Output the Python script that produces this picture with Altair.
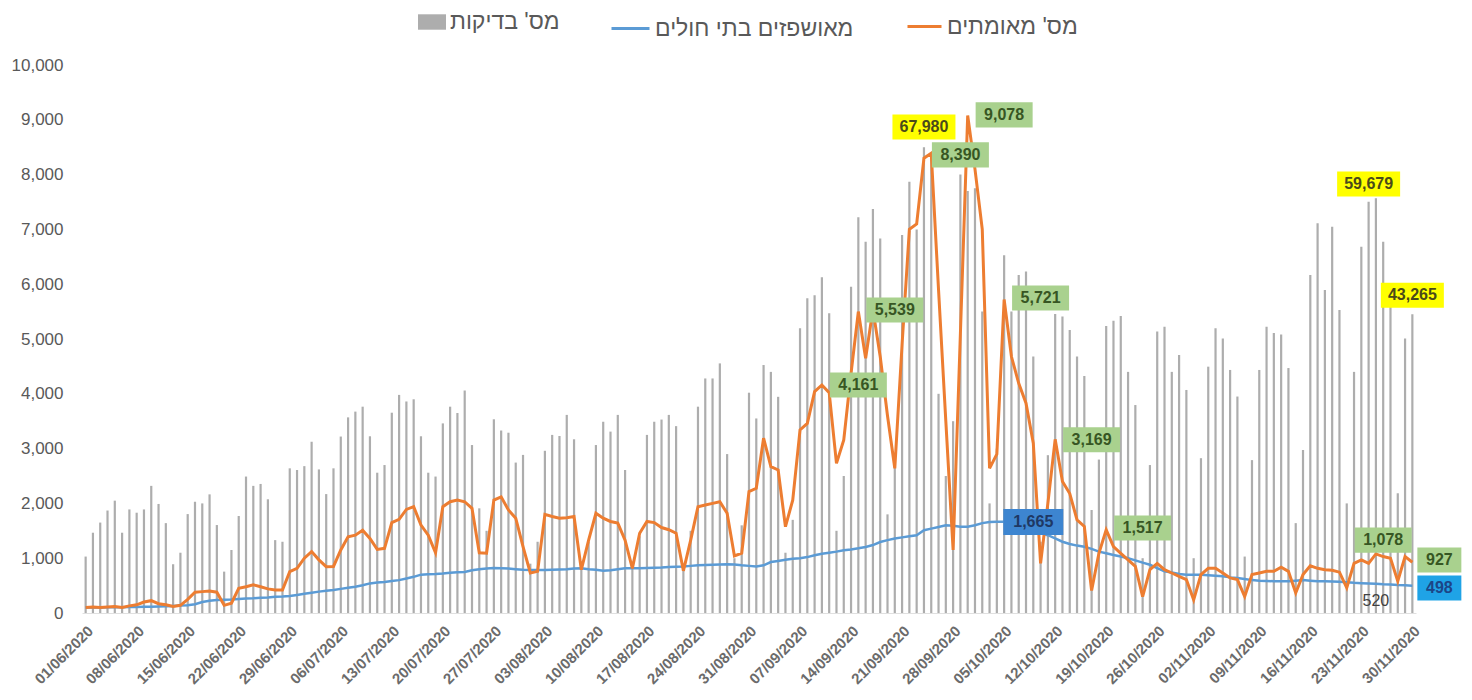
import altair as alt
import pandas as pd

# ---------------- data ----------------
dates = [d.strftime("%d/%m/%Y") for d in pd.date_range("2020-06-01", "2020-11-30", freq="D")]
tick_labels = dates[::7]

# number of tests (as drawn on the chart axis)
tests = [
    1030, 1465, 1650, 1870, 2050, 1465, 1890,
    1830, 1890, 2320, 1990, 1640, 890, 1100,
    1805, 2030, 2000, 2165, 1605, 755, 1150,
    1770, 2490, 2320, 2355, 2075, 1330, 1300,
    2640, 2610, 2680, 3125, 2620, 2170, 2640,
    3220, 3570, 3675, 3765, 3225, 2560, 2700,
    3655, 3980, 3860, 3900, 3225, 2560, 2490,
    3460, 3765, 3650, 4060, 3065, 1910, 1500,
    3535, 3330, 3290, 2745, 2885, 900, 1300,
    2960, 3250, 3230, 3615, 3170, 850, 1300,
    3065, 3490, 3310, 3615, 2610, 850, 1400,
    3250, 3490, 3530, 3615, 3410, 800, 1500,
    3765, 4280, 4280, 4555, 2900, 1000, 1600,
    4020, 3550, 4525, 4400, 3945, 1100, 1700,
    5195, 5745, 5800, 6125, 5470, 1500, 2500,
    5955, 7220, 6775, 7370, 6835, 1800, 2700,
    6900, 7870, 7000, 8500, 8300, 4000, 2500,
    3500, 8000, 7700, 7750, 5500, 2000, 3000,
    6530, 5500, 6170, 6230, 4680, 1300, 2880,
    5455, 5410, 5165, 4680, 4325, 1880, 2800,
    5235, 5335, 5420, 4400, 3795, 1000, 2700,
    5135, 5225, 4400, 4710, 4070, 1000, 2825,
    4495, 5195, 5010, 4435, 3950, 1030, 2790,
    4435, 5225, 5110, 5080, 4470, 1640, 2975,
    6170, 7110, 5895, 7050, 5530, 2000, 4400,
    6685, 7505, 7570, 6775, 5600, 2185, 5010, 5450,
]

# confirmed cases
confirmed = [
    100, 110, 100, 110, 120, 100, 130,
    150, 200, 225, 170, 150, 120, 140,
    250, 380, 390, 400, 380, 140, 180,
    450, 480, 515, 480, 440, 420, 420,
    755, 815, 1000, 1120, 970, 845, 850,
    1150, 1390, 1420, 1510, 1360, 1160, 1180,
    1650, 1710, 1890, 1940, 1605, 1420, 1100,
    1940, 2030, 2060, 2030, 1910, 1100, 1090,
    2060, 2120, 1880, 1730, 1210, 730, 760,
    1800, 1760, 1730, 1740, 1760, 790, 1330,
    1820, 1730, 1670, 1640, 1330, 815, 1455,
    1670, 1650, 1560, 1520, 1455, 770, 1330,
    1940, 1970, 2000, 2030, 1820, 1040, 1090,
    2215, 2275, 3190, 2670, 2610, 1575, 2060,
    3340, 3460, 4040, 4161, 4020, 2730, 3160,
    4375, 5500, 4650, 5539, 4680, 3600, 2640,
    4900, 7000, 7100, 8300, 8390, 5900, 3500,
    1150, 5100, 9078, 8100, 7000, 2640, 2900,
    5721, 4680, 4190, 3830, 3100, 905, 2000,
    3169, 2400, 2180, 1700, 1580, 410, 1090,
    1517, 1210, 1090, 970, 850, 300, 790,
    905, 790, 730, 670, 610, 240, 700,
    815, 815, 730, 640, 610, 300, 700,
    730, 760, 760, 835, 760, 365, 700,
    860, 815, 790, 780, 745, 460, 905,
    970, 905, 1078, 1030, 1000, 580, 1030, 927,
]

# hospitalized
hospitalized = [
    100, 100, 100, 105, 105, 105, 110,
    110, 115, 115, 120, 125, 130, 135,
    140, 160, 200, 225, 235, 240, 245,
    255, 265, 270, 280, 285, 295, 300,
    310, 330, 350, 370, 390, 405, 420,
    440, 460, 480, 505, 540, 555, 565,
    585, 600, 630, 660, 700, 705, 710,
    720, 735, 745, 750, 780, 800, 810,
    820, 815, 810, 800, 790, 785, 785,
    785, 790, 795, 800, 810, 815, 800,
    790, 770, 780, 800, 815, 815, 815,
    820, 825, 830, 840, 845, 850, 860,
    870, 875, 880, 885, 890, 885, 870,
    860, 850, 870, 930, 950, 970, 990,
    1000, 1020, 1055, 1080, 1100, 1120, 1145,
    1160, 1180, 1205, 1240, 1295, 1330, 1360,
    1380, 1400, 1420, 1510, 1540, 1570, 1600,
    1590, 1575, 1575, 1600, 1640, 1660, 1665,
    1665, 1660, 1620, 1560, 1500, 1460, 1420,
    1360, 1300, 1260, 1230, 1210, 1170, 1120,
    1090, 1060, 1030, 1000, 960, 920, 880,
    820, 760, 740, 710, 700, 700, 700,
    690, 680, 670, 650, 640, 620, 600,
    590, 585, 580, 580, 580, 590, 600,
    590, 580, 580, 575, 570, 560, 550,
    545, 540, 535, 525, 520, 510, 505, 498,
]

# callout labels
ann_text = ["67,980", "8,390", "9,078", "5,539", "4,161", "5,721", "3,169", "1,517",
            "1,078", "59,679", "43,265", "1,665", "927", "498", "520"]
ann_day = [115, 120, 126, 111, 106, 131, 138, 145, 178, 176, 182, 130, 182, 182, 177]
ann_value = [8870, 8360, 9090, 5530, 4160, 5750, 3160, 1550, 1330, 7830, 5800, 1660, 967, 456, 219]
ann_kind = ["yellow", "green", "green", "green", "green", "green", "green", "green",
            "green", "yellow", "yellow", "blue", "green_r", "blue_r", "plain"]

LEG_TESTS = "מס' בדיקות"
LEG_HOSP = "מאושפזים בתי חולים"
LEG_CONF = "מס' מאומתים"

GRAY = "#adadad"
BLUE = "#5b9bd5"
ORANGE = "#ed7d31"
FONT = "Liberation Sans"

df = pd.DataFrame({"date": dates, "tests": tests, "confirmed": confirmed, "hosp": hospitalized})
df["s_tests"] = LEG_TESTS
df["s_hosp"] = LEG_HOSP
df["s_conf"] = LEG_CONF
ann = pd.DataFrame({
    "date": [dates[i] for i in ann_day],
    "value": ann_value,
    "text": ann_text,
    "kind": ann_kind,
})

x_scale = alt.Scale(domain=dates, paddingInner=0, paddingOuter=0)
x_axis = alt.Axis(values=tick_labels, labelAngle=-45, title=None, labelFontSize=15,
                  labelFontWeight="bold", labelColor="#6b6b6b", labelFont=FONT, ticks=False,
                  domainColor="#e0e0e0", labelPadding=10)
X = alt.X("date:N", scale=x_scale, axis=x_axis)
y_scale = alt.Scale(domain=[0, 10000], nice=False)
y_axis = alt.Axis(values=list(range(0, 10001, 1000)), format=",.0f", title=None,
                  labelFontSize=17, labelColor="#595959", labelFont=FONT,
                  ticks=False, domain=False, grid=False, labelPadding=19)

leg_common = dict(orient="none", title=None, labelFontSize=23, labelColor="#595959",
                  labelFont=FONT, legendY=-57, labelLimit=600)

bars = alt.Chart(df).mark_bar(size=2.2).encode(
    x=X,
    y=alt.Y("tests:Q", scale=y_scale, axis=y_axis),
    fill=alt.Fill("s_tests:N",
                  scale=alt.Scale(domain=[LEG_TESTS], range=[GRAY]),
                  legend=alt.Legend(legendX=336,
                                    symbolType="M-1,-0.55L1,-0.55L1,0.55L-1,0.55Z",
                                    symbolSize=784, symbolStrokeWidth=0, **leg_common)),
)

hosp_line = alt.Chart(df).mark_line(strokeWidth=2.5).encode(
    x=X,
    y=alt.Y("hosp:Q", scale=y_scale),
    stroke=alt.Stroke("s_hosp:N",
                      scale=alt.Scale(domain=[LEG_HOSP], range=[BLUE]),
                      legend=alt.Legend(legendX=528, symbolType="stroke",
                                        symbolSize=1444, symbolStrokeWidth=3,
                                        **leg_common)),
)

conf_line = alt.Chart(df).mark_line(strokeWidth=3).encode(
    x=X,
    y=alt.Y("confirmed:Q", scale=y_scale),
    color=alt.Color("s_conf:N",
                    scale=alt.Scale(domain=[LEG_CONF], range=[ORANGE]),
                    legend=alt.Legend(legendX=824, symbolType="stroke",
                                      symbolSize=1156, symbolStrokeWidth=3,
                                      **leg_common)),
)


def rect_path(a):
    return f"M-1,-{a}L1,-{a}L1,{a}L-1,{a}Z"


def callout(kind, box_w, box_h, fill, text_color, offset=0):
    base = alt.Chart(ann).transform_filter(alt.datum.kind == kind)
    layers = []
    if fill is not None:
        layers.append(base.mark_point(shape=rect_path(round(box_h / box_w, 3)), size=box_w * box_w,
                                      filled=True, fill=fill, opacity=1, strokeWidth=0,
                                      xOffset=offset).encode(
            x=X, y=alt.Y("value:Q", scale=y_scale)))
    layers.append(base.mark_text(font=FONT, fontSize=16, fontWeight="bold" if fill else "normal",
                                 color=text_color, dx=offset, baseline="middle",
                                 align="center").encode(
        x=X, y=alt.Y("value:Q", scale=y_scale), text="text:N"))
    return layers


ann_layers = []
ann_layers += callout("green", 57, 25, "#a9d18e", "#375623")
ann_layers += callout("yellow", 63, 25, "#ffff00", "#4a4a1a")
ann_layers += callout("blue", 60, 26, "#3d85d0", "#1f3864")
ann_layers += callout("green_r", 44, 25, "#a9d18e", "#375623", offset=27)
ann_layers += callout("blue_r", 44, 25, "#1fa3e6", "#1c4587", offset=27)
ann_layers += callout("plain", 40, 20, None, "#404040")

chart = alt.layer(bars, hosp_line, conf_line, *ann_layers).resolve_scale(
    fill="independent", stroke="independent", color="independent"
).properties(
    width=1334, height=548,
    autosize=alt.AutoSizeParams(type="none"),
    padding={"left": 74, "top": 57, "right": 48, "bottom": 82},
    background="white",
).configure_view(stroke=None)

chart.save("out.html", embed_options={"renderer": "svg", "actions": False})
